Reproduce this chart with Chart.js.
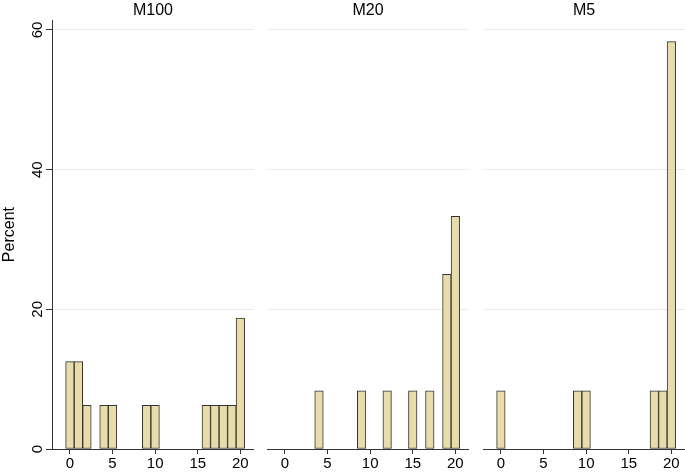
<!DOCTYPE html>
<html>
<head>
<meta charset="utf-8">
<script src="https://cdn.jsdelivr.net/npm/chart.js@4"></script>
<style>
  body { margin: 0; background: #fff; }
  .panel { position: absolute; top: 0; height: 472px; }
  #p1 { left: 0; width: 254px; }
  #p2 { left: 267px; width: 202px; }
  #p3 { left: 483px; width: 202px; }
</style>
</head>
<body>
<div class="panel" id="p1"><canvas id="c1"></canvas></div>
<div class="panel" id="p2"><canvas id="c2"></canvas></div>
<div class="panel" id="p3"><canvas id="c3"></canvas></div>
<script>
// histogram bins (one per value 0..20), percent of each group
var bins = [0,1,2,3,4,5,6,7,8,9,10,11,12,13,14,15,16,17,18,19,20];
var m100 = [12.5,12.5,6.25,0,6.25,6.25,0,0,0,6.25,6.25,0,0,0,0,0,6.25,6.25,6.25,6.25,18.75];
var m20  = [0,0,0,0,8.33,0,0,0,0,8.33,0,0,8.33,0,0,8.33,0,8.33,0,25,33.33];
var m5   = [8.33,0,0,0,0,0,0,0,0,8.33,8.33,0,0,0,0,0,0,0,8.33,8.33,58.33];
var groups = ["M100", "M20", "M5"];
var xTicks = [0, 5, 10, 15, 20];
var yTicks = [0, 20, 40, 60];

var FONT = "'Liberation Sans', Arial, sans-serif";
var fill = "#e8dcaa";
var edge = "#333333";

function makePanel(id, title, values, showY) {
  var pts = [];
  for (var i = 0; i < bins.length; i++) {
    pts.push({x: bins[i], y: values[i] === 0 ? null : values[i]});
  }
  return new Chart(document.getElementById(id), {
    type: "bar",
    data: {
      datasets: [{
        data: pts,
        backgroundColor: fill,
        borderColor: edge,
        borderWidth: 1,
        borderSkipped: false,
        barPercentage: 1,
        categoryPercentage: 1
      }]
    },
    options: {
      responsive: true,
      maintainAspectRatio: false,
      animation: false,
      layout: { padding: 0 },
      plugins: {
        legend: { display: false },
        tooltip: { enabled: false },
        title: {
          display: true,
          text: title,
          fullSize: false,
          color: "#000",
          font: { family: FONT, size: 16, weight: "normal" },
          padding: { top: 1, bottom: 0 }
        }
      },
      scales: {
        x: {
          type: "linear",
          min: -2.1,
          max: 21.6,
          offset: false,
          afterBuildTicks: function (s) { s.ticks = xTicks.map(function (v) { return {value: v}; }); },
          afterFit: function (s) { s.height = 23; },
          grid: { display: true, offset: false, drawOnChartArea: false, tickLength: 5, tickColor: edge },
          border: { display: true, color: edge, width: 1 },
          ticks: { color: "#000", padding: 1, maxRotation: 0, font: { family: FONT, size: 15 } }
        },
        y: {
          min: 0,
          max: 61.4,
          afterBuildTicks: function (s) { s.ticks = yTicks.map(function (v) { return {value: v}; }); },
          afterFit: function (s) { s.width = showY ? 52 : 0; },
          grid: { color: "#ebebeb", drawTicks: showY, tickLength: 6, tickColor: edge },
          border: { display: showY, color: edge, width: 1 },
          title: {
            display: showY,
            text: "Percent",
            color: "#000",
            font: { family: FONT, size: 16 },
            padding: { top: 0, bottom: 0 }
          },
          ticks: {
            display: showY,
            color: "#000",
            padding: 0,
            minRotation: 90,
            maxRotation: 90,
            crossAlign: "center",
            font: { family: FONT, size: 15 }
          }
        }
      }
    }
  });
}

makePanel("c1", groups[0], m100, true);
makePanel("c2", groups[1], m20, false);
makePanel("c3", groups[2], m5, false);
</script>
</body>
</html>
